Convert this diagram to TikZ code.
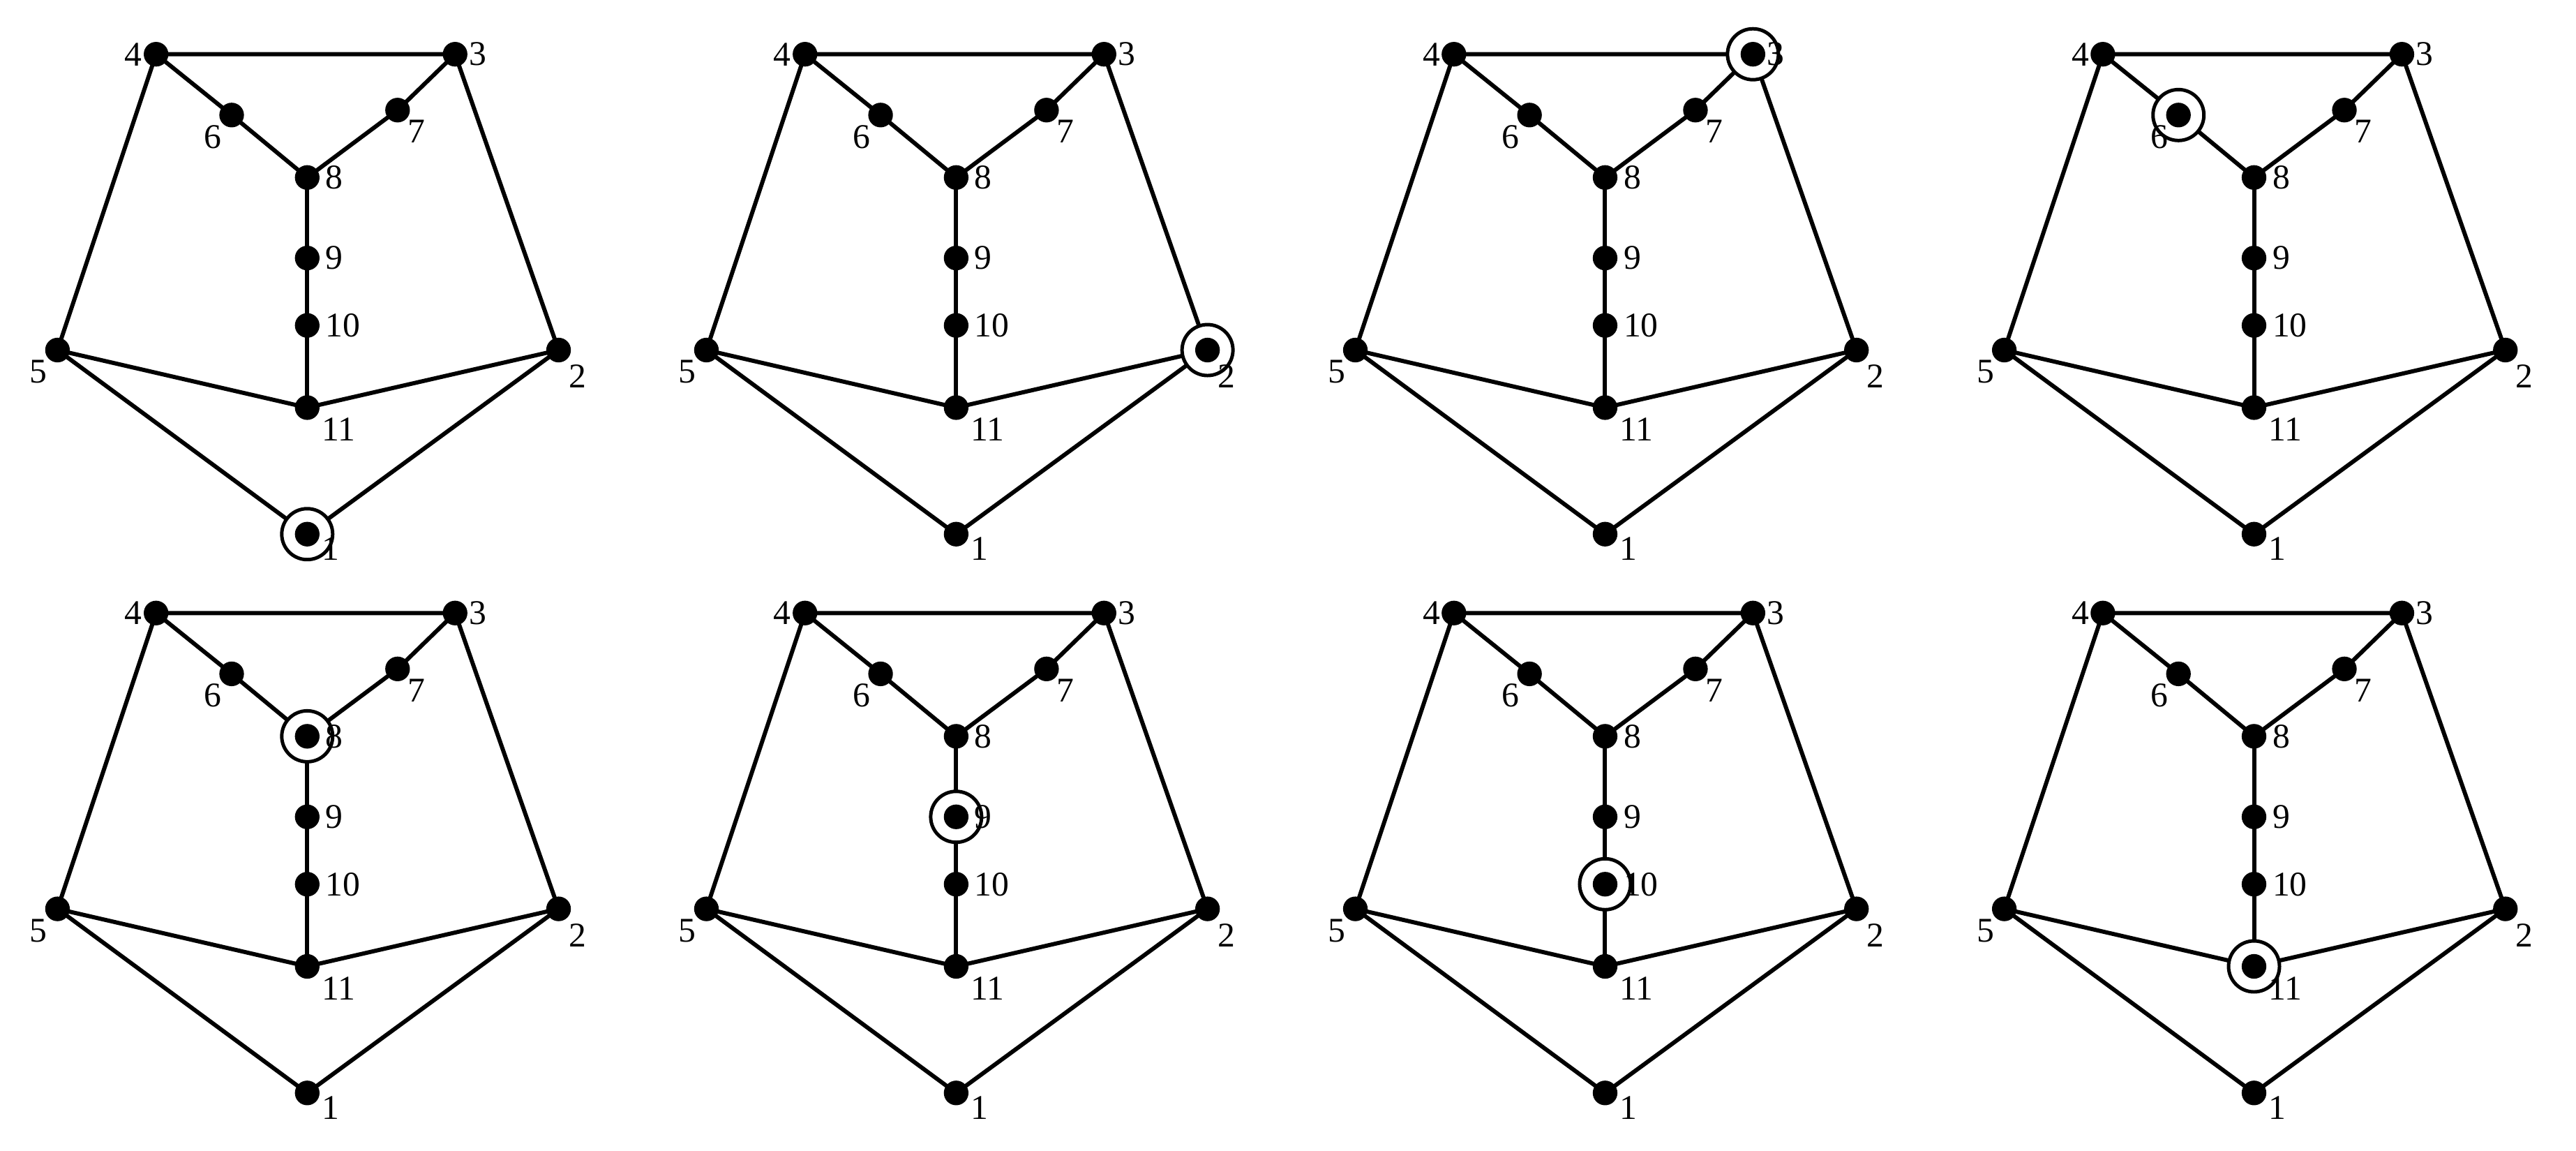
\documentclass[tikz,border=0pt]{standalone}
\usepackage{fontspec}
\setmainfont{Liberation Serif}
\begin{document}
\begin{tikzpicture}[x=0.05cm,y=-0.05cm,
  dot/.style={circle,fill=black,inner sep=0pt,minimum size=0.75cm},
  ring/.style={circle,draw=black,line width=3pt,fill=white,inner sep=0pt,minimum size=1.55cm},
  edge/.style={line width=3.6pt},
  lbl/.style={font=\fontsize{30}{30}\selectfont,inner sep=1pt}]
\useasboundingbox (0,0) rectangle (1568,700);
\foreach \c/\r/\h in {0/0/1,1/0/2,2/0/3,3/0/6,0/1/8,1/1/9,2/1/10,3/1/11}{
 \begin{scope}[shift={(395*\c,340*\r)}]
  \coordinate (p4) at (95,33);
  \coordinate (p3) at (277,33);
  \coordinate (p6) at (141,70);
  \coordinate (p7) at (242,67);
  \coordinate (p8) at (187,108);
  \coordinate (p9) at (187,157);
  \coordinate (p10) at (187,198);
  \coordinate (p11) at (187,248);
  \coordinate (p5) at (35,213);
  \coordinate (p2) at (340,213);
  \coordinate (p1) at (187,325);
  \draw[edge] (p4)--(p3)--(p2)--(p1)--(p5)--(p4)--(p6)--(p8)--(p7)--(p3);
  \draw[edge] (p8)--(p9)--(p10)--(p11);
  \draw[edge] (p5)--(p11)--(p2);
  \node[ring] at (p\h) {};
  \foreach \n in {1,...,11}{\node[dot] (n\n) at (p\n) {};}
  \node[lbl,left] at (n4.west) {4};
  \node[lbl,right] at (n3.east) {3};
  \node[lbl,below left] at (n6.south west) {6};
  \node[lbl,below right] at (n7.south east) {7};
  \node[lbl,right] at ([xshift=4pt]n8.east) {8};
  \node[lbl,right] at ([xshift=4pt]n9.east) {9};
  \node[lbl,right] at ([xshift=4pt]n10.east) {10};
  \node[lbl,below right] at ([xshift=4pt]n11.south east) {11};
  \node[lbl,below left] at (n5.south west) {5};
  \node[lbl,below right] at ([yshift=-4pt]n2.south east) {2};
  \node[lbl,below right] at ([xshift=4pt,yshift=6pt]n1.south east) {1};
 \end{scope}
}
\end{tikzpicture}
\end{document}
